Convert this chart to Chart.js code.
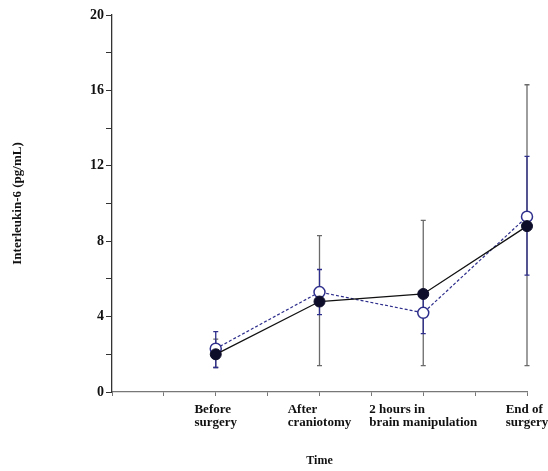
<!DOCTYPE html>
<html>
<head>
<meta charset="utf-8">
<script src="https://cdn.jsdelivr.net/npm/chart.js@4/dist/chart.umd.min.js"></script>
<style>
  html, body { margin: 0; padding: 0; background: #fff; }
</style>
</head>
<body>
<canvas id="il6Chart" width="548" height="471"></canvas>
<script>
// Time points on the x axis (each label line drawn left-aligned under its tick)
const timeLabels = [
    ['Before', 'surgery'],
    ['After', 'craniotomy'],
    ['2 hours in', 'brain manipulation'],
    ['End of', 'surgery']
];

// Filled circles, solid line
const filledMeans = [2.0, 4.8, 5.2, 8.8];
const filledLow = [1.3, 1.4, 1.4, 1.4];
const filledHigh = [2.8, 8.3, 9.1, 16.3];

// Open circles, dashed line
const openMeans = [2.3, 5.3, 4.2, 9.3];
const openLow = [1.3, 4.1, 3.1, 6.2];
const openHigh = [3.2, 6.5, 5.3, 12.5];

const yTicks = [0, 4, 8, 12, 16, 20];

const FONT = 'Liberation Serif, Times New Roman, serif';
const BLUE = '#2e2e8c';

function toPoints(values) {
    return values.map((v, i) => ({ x: i + 1, y: v }));
}

// Vertical error bars with small caps
const errorBars = {
    id: 'errorBars',
    beforeDatasetsDraw(chart) {
        const ctx = chart.ctx;
        const xs = chart.scales.x;
        const ys = chart.scales.y;
        const sets = [
            { low: filledLow, high: filledHigh, color: '#6a6a6a' },
            { low: openLow, high: openHigh, color: BLUE }
        ];
        ctx.save();
        ctx.lineWidth = 1.3;
        sets.forEach(s => {
            ctx.strokeStyle = s.color;
            s.low.forEach((lo, i) => {
                const x = xs.getPixelForValue(i + 1);
                const y1 = ys.getPixelForValue(lo);
                const y2 = ys.getPixelForValue(s.high[i]);
                ctx.beginPath();
                ctx.moveTo(x, y1);
                ctx.lineTo(x, y2);
                ctx.moveTo(x - 2.5, y1);
                ctx.lineTo(x + 2.5, y1);
                ctx.moveTo(x - 2.5, y2);
                ctx.lineTo(x + 2.5, y2);
                ctx.stroke();
            });
        });
        ctx.restore();
    }
};

// Category labels under the x axis
const timeAxisLabels = {
    id: 'timeAxisLabels',
    afterDraw(chart) {
        const ctx = chart.ctx;
        const xs = chart.scales.x;
        const base = chart.chartArea.bottom + 18;
        ctx.save();
        ctx.font = 'bold 13px ' + FONT;
        ctx.fillStyle = '#111';
        ctx.textBaseline = 'middle';
        ctx.textAlign = 'left';
        timeLabels.forEach((lines, i) => {
            const x = xs.getPixelForValue(i + 1);
            const w = Math.max(...lines.map(l => ctx.measureText(l).width));
            lines.forEach((line, j) => {
                ctx.fillText(line, x - w / 2, base + j * 13);
            });
        });
        ctx.restore();
    }
};

new Chart(document.getElementById('il6Chart').getContext('2d'), {
    type: 'scatter',
    data: {
        datasets: [
            {
                label: 'Filled',
                data: toPoints(filledMeans),
                showLine: true,
                clip: false,
                borderColor: '#111',
                borderWidth: 1.3,
                pointRadius: 5.5,
                pointBackgroundColor: '#0d0d2a',
                pointBorderColor: '#0d0d2a',
                pointBorderWidth: 1,
                order: 1
            },
            {
                label: 'Open',
                data: toPoints(openMeans),
                showLine: true,
                clip: false,
                borderColor: BLUE,
                borderWidth: 1.2,
                borderDash: [3, 2],
                pointRadius: 5.5,
                pointBackgroundColor: '#fff',
                pointBorderColor: BLUE,
                pointBorderWidth: 1.5,
                order: 2
            }
        ]
    },
    options: {
        responsive: false,
        animation: false,
        layout: { padding: { top: 15, right: 21, left: 0, bottom: 0 } },
        plugins: {
            legend: { display: false },
            tooltip: { enabled: false }
        },
        scales: {
            x: {
                type: 'linear',
                min: 0,
                max: 4,
                afterFit: scale => { scale.height = 79; },
                ticks: { stepSize: 0.5, display: false },
                grid: { drawOnChartArea: false, drawTicks: true, tickLength: 4, color: '#777' },
                border: { color: '#777', width: 1.3 },
                title: {
                    display: true,
                    text: 'Time',
                    font: { family: FONT, size: 12, weight: 'bold' },
                    color: '#111',
                    padding: { top: 0, bottom: 3 }
                }
            },
            y: {
                min: 0,
                max: 20,
                afterFit: scale => { scale.width = 112; },
                afterBuildTicks: scale => {
                    scale.ticks = [];
                    for (let v = 0; v <= 20; v += 2) scale.ticks.push({ value: v });
                },
                ticks: {
                    padding: 2,
                    color: '#111',
                    font: { family: FONT, size: 14, weight: 'bold' },
                    callback: v => yTicks.includes(v) ? String(v) : ''
                },
                grid: { drawOnChartArea: false, drawTicks: true, tickLength: 6, color: '#333' },
                border: { color: '#333', width: 1.3 },
                title: {
                    display: true,
                    text: 'Interleukin-6 (pg/mL)',
                    font: { family: FONT, size: 13, weight: 'bold' },
                    color: '#111',
                    padding: { top: 10, bottom: 0 }
                }
            }
        }
    },
    plugins: [errorBars, timeAxisLabels]
});
</script>
</body>
</html>
